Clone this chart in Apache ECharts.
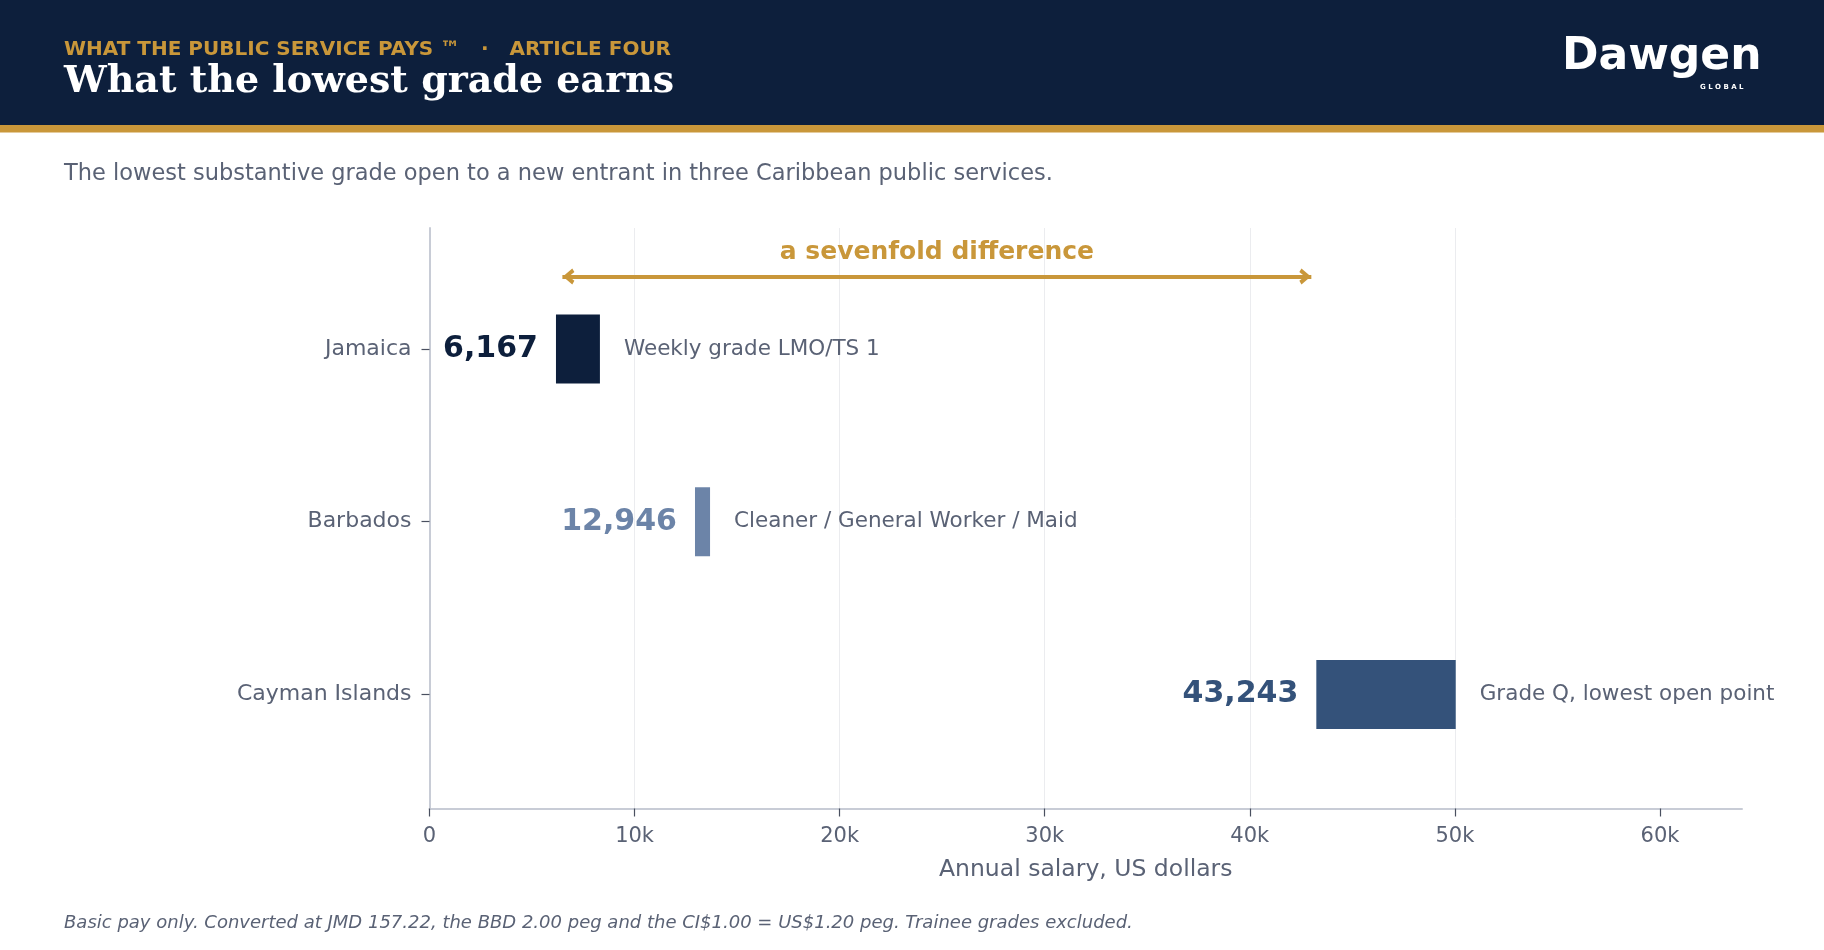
<!DOCTYPE html>
<html>
<head>
<meta charset="utf-8">
<script src="https://cdn.jsdelivr.net/npm/echarts@6/dist/echarts.min.js"></script>
<style>
html,body{margin:0;padding:0;background:#fff;}
#chart{width:1824px;height:950px;}
</style>
</head>
<body>
<div id="chart"></div>
<script>
// ---- data ----
const categories = ['Jamaica', 'Barbados', 'Cayman Islands'];
const lowValues = [6167, 12946, 43243];
const highValues = [8310, 13680, 50040];
const gradeNames = ['Weekly grade LMO/TS 1', 'Cleaner / General Worker / Maid', 'Grade Q, lowest open point'];
const barColors = ['#0d1f3c', '#6c84a8', '#34527a'];
const xTickValues = [0, 10000, 20000, 30000, 40000, 50000, 60000];
const arrowFrom = 6480;   // arrow tips
const arrowTo = 43000;
const arrowLevel = 2.42;
const arrowText = 'a sevenfold difference';

const NAVY = '#0d1f3c', GOLD = '#c9973a', GREY = '#5a6275';
const FONT = 'DejaVu Sans';

const yPos = categories.map((c, i) => categories.length - 1 - i);
const seriesData = categories.map((c, i) => [lowValues[i], highValues[i], yPos[i], i]);

const chart = echarts.init(document.getElementById('chart'), null, {renderer: 'canvas'});

// open chevron head, bounding box padded so that the tip sits on the end point
const chevron = 'path://M5,-10 L5.01,-10 L5,-10 Z M0,7.5 L5,0 L10,7.5 L7.8,9.2 L5,4.8 L2.2,9.2 Z';

const option = {
  animation: false,
  backgroundColor: '#ffffff',
  grid: {left: 429.5, right: 82, top: 228, bottom: 141.5, containLabel: false},
  xAxis: {
    type: 'value', min: 0, max: 64000, interval: 10000,
    name: 'Annual salary, US dollars', nameLocation: 'middle', nameGap: 49,
    nameTextStyle: {fontFamily: FONT, fontSize: 23.5, color: GREY},
    axisLine: {show: true, onZero: false, lineStyle: {color: '#c8ccd6', width: 2}},
    axisTick: {show: true, length: 8, customValues: xTickValues, lineStyle: {color: '#4a5060', width: 1.2}},
    axisLabel: {fontFamily: FONT, fontSize: 21, color: GREY, margin: 18, customValues: xTickValues,
      formatter: v => v === 0 ? '0' : (v / 1000) + 'k'},
    splitLine: {show: true, showMaxLine: false, lineStyle: {color: '#ebecef', width: 1}}
  },
  yAxis: {
    type: 'value', min: -0.66, max: 2.7,
    axisLine: {show: true, onZero: false, lineStyle: {color: '#c8ccd6', width: 2}},
    axisTick: {show: true, length: 8, customValues: yPos, lineStyle: {color: '#4a5060', width: 1.2}},
    axisLabel: {show: true, customValues: yPos, fontFamily: FONT, fontSize: 22, color: GREY, margin: 18,
      formatter: v => categories[categories.length - 1 - Math.round(v)]},
    splitLine: {show: false}
  },
  series: [{
    type: 'custom',
    data: seriesData,
    encode: {x: [0, 1], y: 2},
    renderItem: function (params, api) {
      const lo = api.value(0), hi = api.value(1), y = api.value(2), idx = api.value(3);
      const p0 = api.coord([lo, y]);
      const p1 = api.coord([hi, y]);
      const h = api.size([0, 0.4])[1];
      const color = barColors[idx];
      return {
        type: 'group',
        children: [
          {type: 'rect', shape: {x: p0[0], y: p0[1] - h / 2, width: p1[0] - p0[0], height: h},
            style: {fill: color}},
          {type: 'text', x: p0[0] - 18, y: p0[1],
            style: {text: lowValues[idx].toLocaleString('en-US'), fill: color,
              font: 'bold 30px "DejaVu Sans"', align: 'right', verticalAlign: 'middle'}},
          {type: 'text', x: p1[0] + 24, y: p0[1],
            style: {text: gradeNames[idx], fill: GREY,
              font: '21.5px "DejaVu Sans"', align: 'left', verticalAlign: 'middle'}}
        ]
      };
    },
    markLine: {
      silent: true,
      symbol: [chevron, chevron],
      symbolSize: [16, 24],
      lineStyle: {color: GOLD, width: 4, type: 'solid'},
      label: {show: true, position: 'middle', formatter: arrowText, distance: 11,
        fontFamily: FONT, fontWeight: 'bold', fontSize: 25, color: GOLD},
      data: [[{coord: [arrowFrom, arrowLevel]}, {coord: [arrowTo, arrowLevel]}]]
    }
  }],
  graphic: [
    {type: 'rect', left: 0, top: 0, shape: {width: 1824, height: 125}, style: {fill: NAVY}},
    {type: 'rect', left: 0, top: 125, shape: {width: 1824, height: 7.5}, style: {fill: GOLD}},
    {type: 'text', left: 64, top: 40,
      style: {text: 'WHAT THE PUBLIC SERVICE PAYS \u2122   \u00B7   ARTICLE FOUR', fill: GOLD,
        font: 'bold 20px "DejaVu Sans"'}},
    {type: 'text', left: 64, top: 63,
      style: {text: 'What the lowest grade earns', fill: '#ffffff',
        font: 'bold 38px "DejaVu Serif"'}},
    {type: 'text', left: 1562, top: 36,
      style: {text: 'Dawgen', fill: '#ffffff', font: 'bold 44px "DejaVu Sans"'}},
    {type: 'text', left: 1700, top: 84,
      style: {text: 'G L O B A L', fill: '#ffffff', font: 'bold 7px "DejaVu Sans"'}},
    {type: 'text', left: 64, top: 163,
      style: {text: 'The lowest substantive grade open to a new entrant in three Caribbean public services.',
        fill: GREY, font: '22.5px "DejaVu Sans"'}},
    {type: 'text', left: 64, top: 914,
      style: {text: 'Basic pay only. Converted at JMD 157.22, the BBD 2.00 peg and the CI$1.00 = US$1.20 peg. Trainee grades excluded.',
        fill: GREY, font: 'italic 18px "DejaVu Sans"'}}
  ]
};
chart.setOption(option);
</script>
</body>
</html>
